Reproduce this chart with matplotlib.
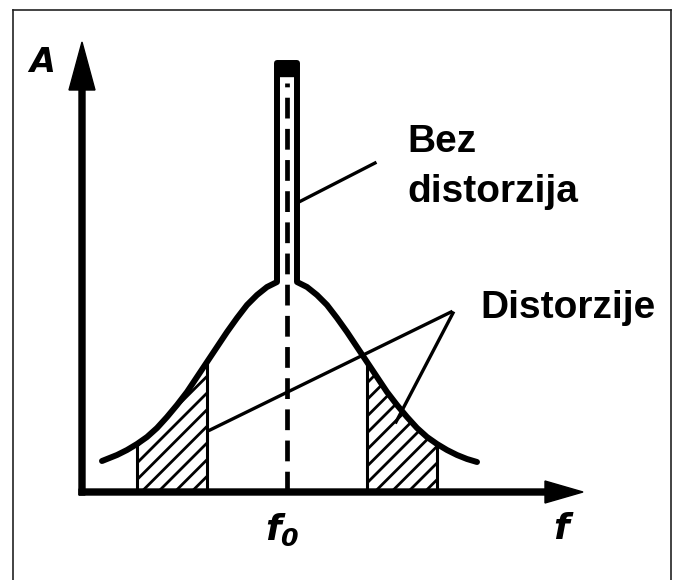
import matplotlib
matplotlib.use("Agg")
import matplotlib.pyplot as plt
from matplotlib.lines import Line2D
import numpy as np

# ---- data (units: f relative to axis origin, A amplitude) ----
f0 = 20.5
bell_offsets = [-18.5, -18, -17, -16, -15, -14, -13, -12, -11, -10, -9, -8, -7, -6, -5, -4, -3, -2, -1,
                1, 2, 3, 4, 5, 6, 7, 8, 9, 10, 11, 12, 13, 14, 15, 16, 17, 18, 19]
bell_amps = [3.1, 3.3, 3.7, 4.2, 4.8, 5.5, 6.4, 7.5, 8.7, 10.0, 11.5, 13.0, 14.5, 16.0, 17.4, 18.7, 19.7, 20.5, 21.0,
             21.0, 20.5, 19.7, 18.7, 17.4, 16.0, 14.5, 13.0, 11.5, 10.0, 8.7, 7.5, 6.4, 5.5, 4.8, 4.2, 3.7, 3.3, 3.0]
spike_top = 42.9
hatch_inner, hatch_outer = 8, 15
label_bez = ["Bez", "distorzija"]
label_dist = "Distorzije"
label_A = "A"
label_f = "f"
label_f0 = r"$f_0$"

plt.rcParams['mathtext.fontset'] = 'custom'
plt.rcParams['mathtext.it'] = 'DejaVu Sans:bold:italic'
plt.rcParams['mathtext.rm'] = 'DejaVu Sans:bold:italic'
plt.rcParams['hatch.linewidth'] = 2.0

fig = plt.figure(figsize=(6.73, 5.80), dpi=100)
ax = fig.add_axes([0, 0, 1, 1])
ax.set_xlim(-8.2, 59.1)
ax.set_ylim(-8.8, 49.2)
ax.axis('off')

off = np.array(bell_offsets, dtype=float)
amp = np.array(bell_amps, dtype=float)
fx = f0 + off

# hatched distortion regions
for sgn in (-1, 1):
    m = (np.abs(off) >= hatch_inner) & (np.abs(off) <= hatch_outer) & (np.sign(off) == sgn)
    ax.fill_between(fx[m], 0, amp[m], facecolor='white', edgecolor='black', hatch='//', linewidth=0, zorder=1)
    for d in (hatch_inner, hatch_outer):
        i = np.where(off == sgn * d)[0][0]
        ax.plot([fx[i], fx[i]], [0, amp[i]], color='black', lw=2.2, zorder=2)

# bell + spike outline
left = off < 0
right = off > 0
xs = np.concatenate([fx[left], [f0 - 1, f0 + 1], fx[right]])
ys = np.concatenate([amp[left], [spike_top, spike_top], amp[right]])
ax.plot(xs, ys, color='black', lw=4.3, solid_joinstyle='round', solid_capstyle='round', zorder=4)
# spike cap
ax.fill_between([f0 - 1, f0 + 0.8], spike_top - 1.3, spike_top, color='black', zorder=4)

# dashed line at f0
ax.plot([f0, f0], [0, spike_top - 2.0], color='black', lw=3.4, linestyle=(0, (4.4, 2.2)), zorder=3)

# axes with arrows
ax.arrow(0, -0.3, 0, 45.3, width=0.6, head_width=2.6, head_length=4.8,
         length_includes_head=True, color='black', zorder=5)
ax.arrow(-0.3, 0, 50.4, 0, width=0.6, head_width=2.2, head_length=3.8,
         length_includes_head=True, color='black', zorder=5)

# annotation leader lines
ax.plot([21.5, 29.3], [28.9, 32.9], color='black', lw=2.4, zorder=6)
ax.plot([36.9, 12.8], [18.0, 6.2], color='black', lw=2.4, zorder=6)
ax.plot([37.1, 31.4], [17.9, 7.0], color='black', lw=2.4, zorder=6)

# texts
tfont = dict(family='Liberation Sans', fontweight='bold', fontsize=28, color='black')
ax.text(32.5, 34.0, label_bez[0], ha='left', va='baseline', **tfont)
ax.text(32.5, 29.0, label_bez[1], ha='left', va='baseline', **tfont)
ax.text(39.8, 17.4, label_dist, ha='left', va='baseline', **tfont)
ax.text(-4.0, 43.0, label_A, ha='center', va='center', fontsize=24, fontweight='bold',
        fontstyle='italic', family='DejaVu Sans')
ax.text(47.9, -2.0, label_f, ha='center', va='top', fontsize=26, fontweight='bold',
        fontstyle='italic', family='DejaVu Sans')
ax.text(20.0, -2.0, label_f0, ha='center', va='top', fontsize=26)

# frame of the picture
fw, fh = 673.0, 580.0
for xa, ya in (([13 / fw, 13 / fw], [0, 1 - 10 / fh]),
               ([13 / fw, 671 / fw], [1 - 10 / fh, 1 - 10 / fh]),
               ([671 / fw, 671 / fw], [1 - 10 / fh, 0])):
    fig.add_artist(Line2D(xa, ya, transform=fig.transFigure, color='#222222', lw=1.2))

fig.savefig('out.png', dpi=100, facecolor='white')
